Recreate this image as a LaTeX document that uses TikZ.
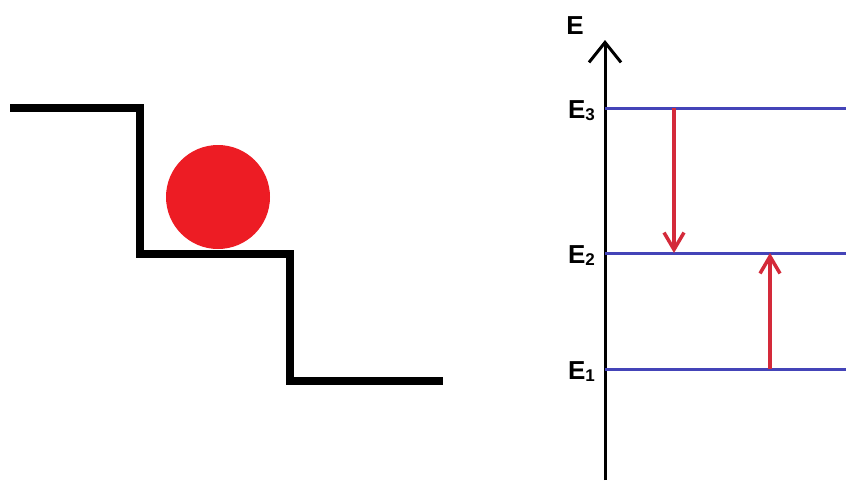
\documentclass[tikz,border=0pt]{standalone}
\usepackage{fontspec}
\setmainfont{Liberation Sans}
\usetikzlibrary{arrows.meta,positioning,calc}
\definecolor{ballred}{HTML}{ED1C24}
\definecolor{arrowred}{HTML}{D42A3A}
\definecolor{levelblue}{HTML}{4444B8}

\begin{document}
\begin{tikzpicture}[x=1pt,y=-1pt,
  stair/.style={line width=8pt, line join=miter},
  level/.style={levelblue, line width=3pt},
  transition/.style={arrowred, line width=3.5pt, -{Straight Barb[length=17pt,width=20pt,line width=3.5pt]}},
  axis/.style={black, line width=3pt, -{Straight Barb[length=20pt,width=32pt,line width=3pt]}},
  elabel/.style={font=\fontsize{26}{26}\selectfont\bfseries, inner sep=0pt, anchor=east}]
\useasboundingbox (0,0) rectangle (846,480);
% staircase and ball
\draw[stair] (10,108) -- (140,108) -- (140,254) -- (290,254) -- (290,381) -- (443,381);
\fill[ballred] (218,197) circle (52);
% energy axis
\coordinate (base) at (605,480);
\coordinate (top) at (605,40);
\draw[axis] (base) -- (top);
\node[elabel] (E) at (584,26) {E};
% levels
\foreach \name/\y/\i in {three/108/3, two/253/2, one/369/1} {
  \coordinate (\name L) at (605,\y);
  \coordinate (\name R) at (846,\y);
  \draw[level] (\name L) -- (\name R);
  \node[elabel] (lab\name) at (595,\y+3) {E{\fontsize{17}{17}\selectfont\raisebox{-2pt}{\i}}};
}
% transitions
\coordinate (down1) at (674,108);
\coordinate (down2) at (674,253);
\coordinate (up1) at (770,369);
\coordinate (up2) at (770,253);
\draw[transition] (down1) -- (down2);
\draw[transition] (up1) -- (up2);
\end{tikzpicture}
\end{document}
